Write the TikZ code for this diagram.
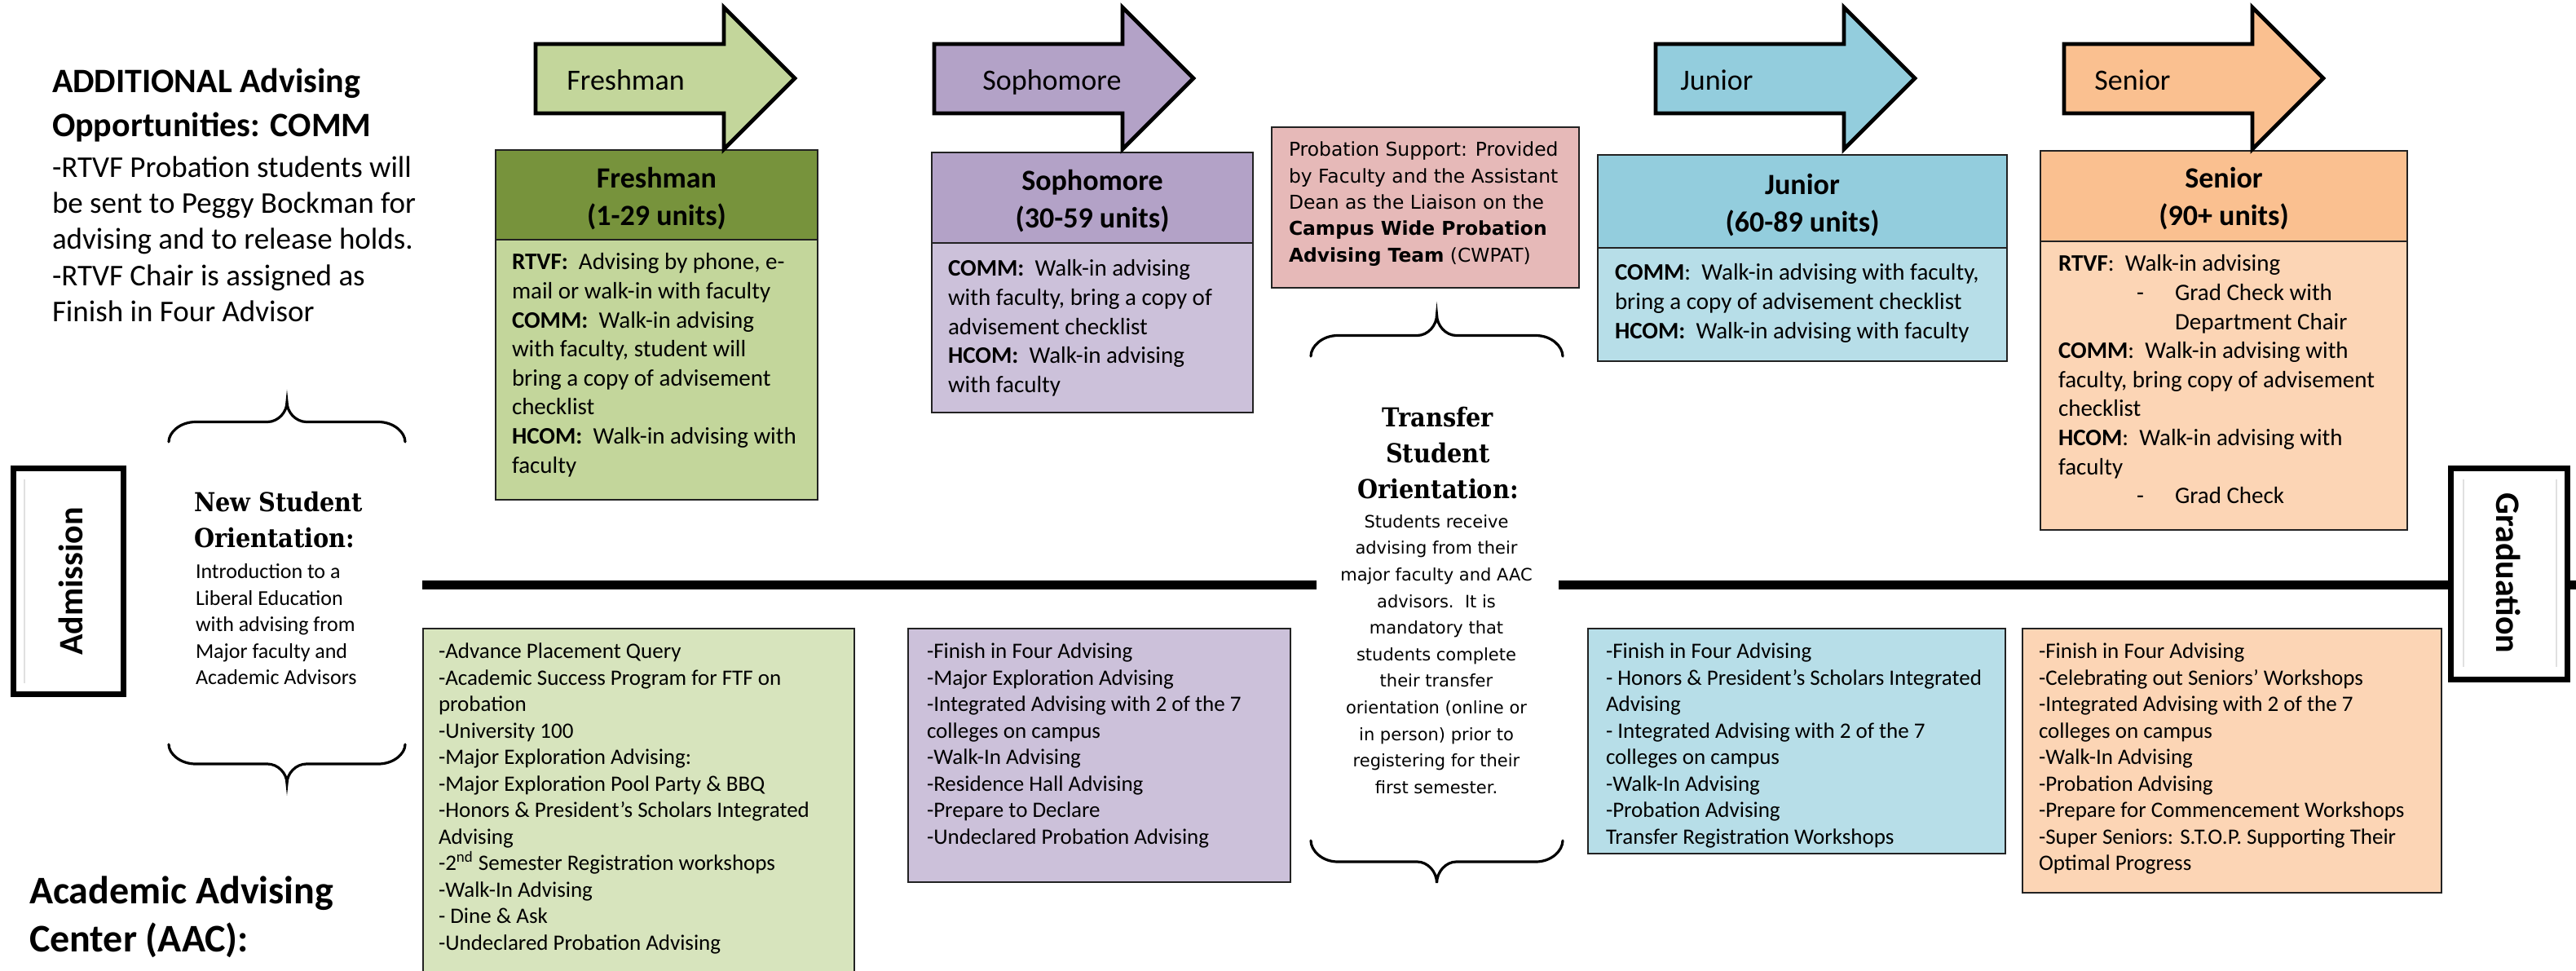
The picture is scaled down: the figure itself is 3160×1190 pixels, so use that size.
\documentclass[tikz,border=0pt]{standalone}
\usepackage{fontspec}
\setmainfont{Carlito}
\newfontfamily\versans{DejaVu Sans}
\newfontfamily\slabserif{DejaVu Serif}[FakeStretch=0.9]

\definecolor{frHead}{HTML}{77933C}
\definecolor{frBody}{HTML}{C3D69B}
\definecolor{frLow}{HTML}{D7E4BD}
\definecolor{soHead}{HTML}{B3A2C7}
\definecolor{soBody}{HTML}{CCC1DA}
\definecolor{juHead}{HTML}{93CDDD}
\definecolor{juBody}{HTML}{B7DEE8}
\definecolor{seHead}{HTML}{FAC090}
\definecolor{seBody}{HTML}{FCD5B5}
\definecolor{probFill}{HTML}{E6B9B8}
\definecolor{frameLine}{HTML}{222222}

% block arrow: #1 = left end of the shaft, #2 = fill colour
\newcommand{\stagearrow}[2]{%
  \draw[arrowline, fill=#2] (#1,54) -- ({#1+231},54) -- ({#1+231},9)
    -- ({#1+318},96) -- ({#1+231},183) -- ({#1+231},139) -- (#1,139) -- cycle;}

% curly brace: #1,#2 = left/right x, #3 = y of the two ends, #4 = signed height to the tip
\newcommand{\curlybrace}[4]{%
  \pgfmathsetmacro{\brcmid}{(#1+#2)/2}%
  \pgfmathsetmacro{\brcbar}{#3+(#4)/2}%
  \pgfmathsetmacro{\brctip}{#3+(#4)}%
  \pgfmathsetmacro{\brcend}{#3+0.24*(#4)}%
  \pgfmathsetmacro{\brcnear}{#3+0.74*(#4)}%
  \draw[curlyline] (#1,#3) .. controls (#1,\brcend) and ({#1+14},\brcbar) .. ({#1+33},\brcbar)
    -- ({\brcmid-24},\brcbar) .. controls ({\brcmid-11},\brcbar) and (\brcmid,\brcnear) .. (\brcmid,\brctip)
    .. controls (\brcmid,\brcnear) and ({\brcmid+11},\brcbar) .. ({\brcmid+24},\brcbar)
    -- ({#2-33},\brcbar) .. controls ({#2-14},\brcbar) and (#2,\brcend) .. (#2,#3);}

\begin{document}
\begin{tikzpicture}[x=0.5pt, y=-0.5pt,
  panel/.style={draw=frameLine, line width=0.8pt, inner sep=0pt, outer sep=0pt, anchor=north west},
  txt/.style={inner sep=0pt, outer sep=0pt, align=left, anchor=north west},
  arrowline/.style={draw=black, line width=2.4pt, line join=miter},
  curlyline/.style={draw=black, line width=1.6pt, line cap=round},
  timeline/.style={draw=black, line width=5.5pt},
  milestone/.style={draw=black, line width=3.5pt, fill=white, inner sep=0pt},
  innerrule/.style={draw=black!12, line width=1.2pt},
  bodyfont/.style={font=\fontsize{14.5}{17.8}\selectfont},
  listfont/.style={font=\fontsize{13.5}{16.25}\selectfont},
  headfont/.style={font=\fontsize{18}{23}\selectfont\bfseries},
  stagefont/.style={font=\fontsize{18}{22}\selectfont},
  orientfont/.style={font=\slabserif\fontsize{16}{22}\selectfont\bfseries},
]
\useasboundingbox (0,0) rectangle (3160,1190);
\clip (0,0) rectangle (3160,1190);

% ---------- additional advising note (top left) ----------
\node[txt, font=\fontsize{21}{27}\selectfont\bfseries] (commhead) at (64,76)
  {\strut ADDITIONAL Advising\\Opportunities: COMM};
\node[txt, font=\fontsize{18.5}{22.2}\selectfont] (commnote) at (64,186)
  {\strut -RTVF Probation students will\\be sent to Peggy Bockman for\\advising and to release holds.\\-RTVF Chair is assigned as\\Finish in Four Advisor};

% ---------- year panels ----------
\node[panel, fill=frHead, minimum width=197.5pt, minimum height=55pt] (frhead) at (608,184) {};
\node[panel, fill=frBody, minimum width=197.5pt, minimum height=159.5pt] (frbody) at (608,294) {};
\node[panel, fill=soHead, minimum width=197pt, minimum height=55.5pt] (sohead) at (1143,187) {};
\node[panel, fill=soBody, minimum width=197pt, minimum height=104pt] (sobody) at (1143,298) {};
\node[panel, fill=juHead, minimum width=251pt, minimum height=57pt] (juhead) at (1960,190) {};
\node[panel, fill=juBody, minimum width=251pt, minimum height=69.5pt] (jubody) at (1960,304) {};
\node[panel, fill=seHead, minimum width=225pt, minimum height=55.5pt] (sehead) at (2503,185) {};
\node[panel, fill=seBody, minimum width=225pt, minimum height=177pt] (sebody) at (2503,296) {};
\node[panel, fill=probFill, minimum width=188.5pt, minimum height=98.5pt] (probation) at (1560,156) {};

% ---------- stage arrows ----------
\stagearrow{657}{frBody}
\stagearrow{1146}{soHead}
\stagearrow{2031}{juHead}
\stagearrow{2532}{seHead}
\node[stagefont, anchor=base west, inner sep=0pt] (frlabel) at (695,110) {Freshman};
\node[stagefont, anchor=base west, inner sep=0pt] (solabel) at (1205,110) {Sophomore};
\node[stagefont, anchor=base west, inner sep=0pt] (julabel) at (2061,110) {Junior};
\node[stagefont, anchor=base west, inner sep=0pt] (selabel) at (2569,110) {Senior};

% ---------- panel headings ----------
\node[headfont, align=center, anchor=north, inner sep=0pt] (frtitle) at (805.5,198) {\strut Freshman\\(1-29 units)};
\node[headfont, align=center, anchor=north, inner sep=0pt] (sotitle) at (1340,201) {\strut Sophomore\\(30-59 units)};
\node[headfont, align=center, anchor=north, inner sep=0pt] (jutitle) at (2211,206) {\strut Junior\\(60-89 units)};
\node[headfont, align=center, anchor=north, inner sep=0pt] (setitle) at (2728,198) {\strut Senior\\(90+ units)};

% ---------- panel bodies ----------
\node[txt, bodyfont] (frtext) at (628,306)
  {\strut\textbf{RTVF:}\ \ Advising by phone, e-\\mail or walk-in with faculty\\\textbf{COMM:}\ \ Walk-in advising\\with faculty, student will\\bring a copy of advisement\\checklist\\\textbf{HCOM:}\ \ Walk-in advising with\\faculty};
\node[txt, bodyfont] (sotext) at (1163,314)
  {\strut\textbf{COMM:}\ \ Walk-in advising\\with faculty, bring a copy of\\advisement checklist\\\textbf{HCOM:}\ \ Walk-in advising\\with faculty};
\node[txt, bodyfont] (jutext) at (1981,319)
  {\strut\textbf{COMM}:\ \ Walk-in advising with faculty,\\bring a copy of advisement checklist\\\textbf{HCOM:}\ \ Walk-in advising with faculty};
\node[txt, bodyfont] (setext) at (2525,308)
  {\strut\textbf{RTVF}:\ \ Walk-in advising\\\hspace*{48pt}\makebox[23.5pt][l]{-}Grad Check with\\\hspace*{71.5pt}Department Chair\\\textbf{COMM}:\ \ Walk-in advising with\\faculty, bring copy of advisement\\checklist\\\textbf{HCOM}:\ \ Walk-in advising with\\faculty\\\hspace*{48pt}\makebox[23.5pt][l]{-}Grad Check};

\node[txt, font=\versans\fontsize{11.7}{16.2}\selectfont] (probtext) at (1581,169)
  {\strut Probation Support: Provided\\by Faculty and the Assistant\\Dean as the Liaison on the\\\textbf{Campus Wide Probation}\\\textbf{Advising Team} (CWPAT)};

% ---------- admission / graduation and the time line ----------
\node[milestone, minimum width=67.5pt, minimum height=138.5pt] (adm) at (84,713) {};
\node[milestone, minimum width=71.5pt, minimum height=129.5pt] (grad) at (3078,704) {};
\draw[innerrule] (30,588) -- (30,838);
\draw[innerrule] (3022,588) -- (3022,818);
\draw[innerrule] (3136,588) -- (3136,818);
\node[rotate=90, font=\fontsize{21}{25}\selectfont\bfseries, inner sep=0pt] (admtxt) at (87,713) {Admission};
\node[rotate=-90, font=\fontsize{21}{25}\selectfont\bfseries, inner sep=0pt] (gradtxt) at (3077,703) {Graduation};

\coordinate (lineStart) at (518,717);
\coordinate (lineGapL) at (1615,717);
\coordinate (lineGapR) at (1912,717);
\coordinate (lineEnd) at (3170,717);
\draw[timeline] (lineStart) -- (lineGapL);
\draw[timeline] (lineGapR) -- (grad.west |- lineGapR);
\draw[timeline] (grad.east |- lineGapR) -- (lineEnd);

% ---------- orientations ----------
\curlybrace{207}{497}{542}{-49}
\curlybrace{207}{497}{913}{48}
\node[txt, orientfont] (nsohead) at (238,597) {\strut New Student\\Orientation:};
\node[txt, font=\fontsize{13}{16.25}\selectfont] (nsotext) at (240,687)
  {\strut Introduction to a\\Liberal Education\\with advising from\\Major faculty and\\Academic Advisors};

\curlybrace{1608}{1917}{437}{-51}
\curlybrace{1608}{1917}{1031}{52}
\node[orientfont, align=center, anchor=north, inner sep=0pt] (tsohead) at (1764,492) {\strut Transfer\\Student\\Orientation:};
\node[font=\versans\fontsize{10.5}{16.3}\selectfont, align=center, anchor=north, inner sep=0pt] (tsotext) at (1762,624)
  {\strut Students receive\\advising from their\\major faculty and AAC\\advisors.\ \ It is\\mandatory that\\students complete\\their transfer\\orientation (online or\\in person) prior to\\registering for their\\first semester.};

% ---------- academic advising center lists ----------
\node[panel, fill=frLow, minimum width=264.5pt, minimum height=220pt] (frlist) at (519,771) {};
\node[panel, fill=soBody, minimum width=234.5pt, minimum height=155.5pt] (solist) at (1114,771) {};
\node[panel, fill=juBody, minimum width=256pt, minimum height=138pt] (julist) at (1948,771) {};
\node[panel, fill=seBody, minimum width=257pt, minimum height=162pt] (selist) at (2481,771) {};

\node[txt, listfont] (frlisttxt) at (538,785)
  {\strut -Advance Placement Query\\-Academic Success Program for FTF on\\probation\\-University 100\\-Major Exploration Advising:\\-Major Exploration Pool Party \& BBQ\\-Honors \& President’s Scholars Integrated\\Advising\\-2\textsuperscript{nd} Semester Registration workshops\\-Walk-In Advising\\- Dine \& Ask\\-Undeclared Probation Advising};
\node[txt, listfont] (solisttxt) at (1137,785)
  {\strut -Finish in Four Advising\\-Major Exploration Advising\\-Integrated Advising with 2 of the 7\\colleges on campus\\-Walk-In Advising\\-Residence Hall Advising\\-Prepare to Declare\\-Undeclared Probation Advising};
\node[txt, listfont] (julisttxt) at (1970,785)
  {\strut -Finish in Four Advising\\- Honors \& President’s Scholars Integrated\\Advising\\- Integrated Advising with 2 of the 7\\colleges on campus\\-Walk-In Advising\\-Probation Advising\\Transfer Registration Workshops};
\node[txt, listfont] (selisttxt) at (2501,785)
  {\strut -Finish in Four Advising\\-Celebrating out Seniors’ Workshops\\-Integrated Advising with 2 of the 7\\colleges on campus\\-Walk-In Advising\\-Probation Advising\\-Prepare for Commencement Workshops\\-Super Seniors: S.T.O.P. Supporting Their\\Optimal Progress};

\node[txt, font=\fontsize{24}{29.5}\selectfont\bfseries] (aac) at (36,1067)
  {\strut Academic Advising\\Center (AAC):};
\end{tikzpicture}
\end{document}
